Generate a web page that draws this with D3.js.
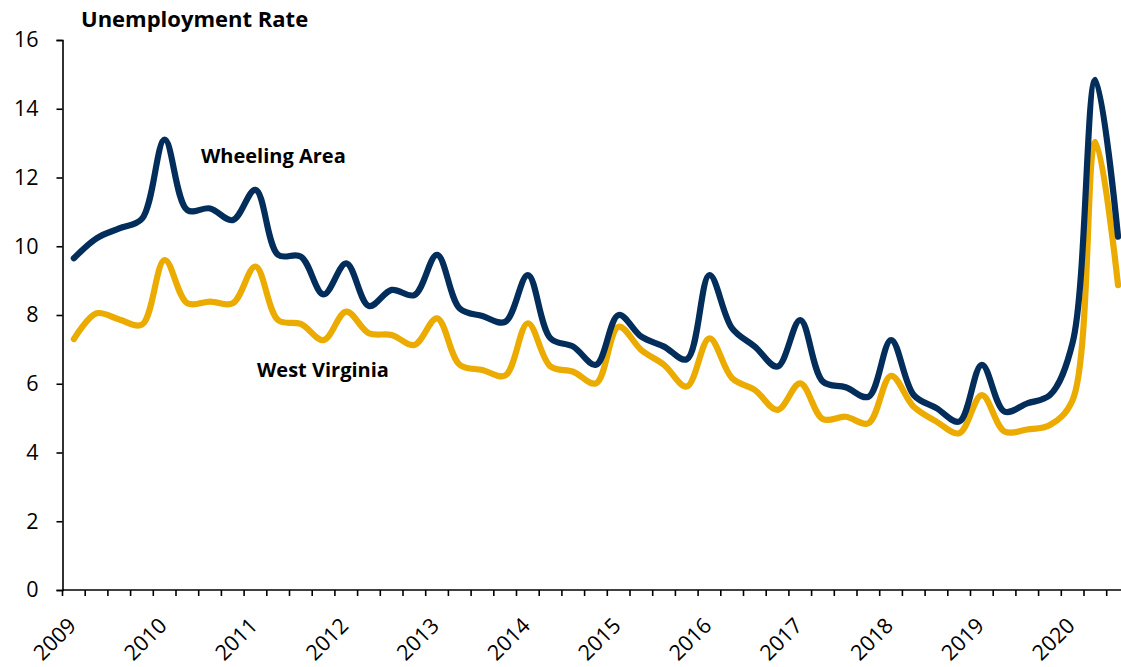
<!DOCTYPE html>
<html>
<head>
<meta charset="utf-8">
<script src="https://cdn.jsdelivr.net/npm/d3@7"></script>
<style>
  html, body { margin: 0; padding: 0; background: #fff; }
  svg { display: block; }
  text { font-family: "Open Sans", Lato, sans-serif; fill: #000; }
</style>
</head>
<body>
<svg id="chart" width="1121" height="667"></svg>
<script>
// Quarterly periods 2009Q1 .. 2020Q3
const years = [2009, 2010, 2011, 2012, 2013, 2014, 2015, 2016, 2017, 2018, 2019, 2020];
const quarters = [];
years.forEach(yr => [1, 2, 3, 4].forEach(q => { if (!(yr === 2020 && q === 4)) quarters.push(yr + "Q" + q); }));

const wheeling = [
  9.65, 10.23, 10.52, 10.8,
  13.1, 11.05, 11.1, 10.76,
  11.64, 9.75, 9.7, 8.6,
  9.5, 8.26, 8.73, 8.58,
  9.75, 8.19, 7.97, 7.8,
  9.16, 7.32, 7.08, 6.55,
  8.0, 7.37, 7.08, 6.71,
  9.16, 7.61, 7.08, 6.5,
  7.85, 6.06, 5.9, 5.62,
  7.27, 5.67, 5.29, 4.9,
  6.55, 5.19, 5.43, 5.67,
  7.2, 14.84, 10.28
];
const westVirginia = [
  7.3, 8.05, 7.87, 7.72,
  9.6, 8.34, 8.39, 8.34,
  9.41, 7.85, 7.74, 7.27,
  8.1, 7.47, 7.42, 7.13,
  7.9, 6.55, 6.4, 6.24,
  7.76, 6.5, 6.35, 6.01,
  7.66, 6.98, 6.55, 5.92,
  7.32, 6.16, 5.82, 5.24,
  6.01, 4.97, 5.04, 4.85,
  6.23, 5.33, 4.9, 4.56,
  5.67, 4.61, 4.67, 4.8,
  5.53, 13.04, 8.87
];
const yTicks = [0, 2, 4, 6, 8, 10, 12, 14, 16];
const title = "Unemployment Rate";
const seriesNames = ["Wheeling Area", "West Virginia"];

const svg = d3.select("#chart");
const mLeft = 62.5, mTop = 40, mBottom = 590;
const bandW = 22.7;

const x = d3.scaleBand().domain(quarters).range([mLeft, mLeft + quarters.length * bandW]).padding(0);
const y = d3.scaleLinear().domain([0, 16]).range([mBottom, mTop]);

// Y axis
const yAxis = d3.axisLeft(y).tickValues(yTicks).tickSize(6).tickPadding(18).tickFormat(d3.format("d"));
const gy = svg.append("g").attr("transform", `translate(${mLeft},0)`).call(yAxis);
gy.select(".domain").attr("stroke", "#000").attr("stroke-width", 1.6);
gy.selectAll(".tick line").attr("stroke", "#000").attr("stroke-width", 1.6);
gy.selectAll(".tick text").style("font-family", "'Open Sans', sans-serif").style("font-size", "21.5px").attr("fill", "#000");

// X axis line
svg.append("line").attr("x1", mLeft).attr("x2", 1121).attr("y1", mBottom).attr("y2", mBottom)
  .attr("stroke", "#000").attr("stroke-width", 1.6);
// X ticks at band boundaries
svg.append("g").selectAll("line").data(quarters).join("line")
  .attr("x1", d => x(d)).attr("x2", d => x(d))
  .attr("y1", mBottom).attr("y2", mBottom + 6)
  .attr("stroke", "#000").attr("stroke-width", 1.6);
// Year labels
svg.append("g").selectAll("text").data(quarters.filter(q => q.endsWith("Q1"))).join("text")
  .attr("transform", d => `translate(${x(d) + x.bandwidth() / 2 + 3.5},${mBottom + 37}) rotate(-45)`)
  .attr("text-anchor", "end")
  .style("font-size", "21.5px")
  .text(d => d.slice(0, 4));

// Lines
const line = d3.line()
  .x((d, i) => x(quarters[i]) + x.bandwidth() / 2)
  .y(d => y(d))
  .curve(d3.curveCatmullRom.alpha(0.5));

svg.append("path").datum(westVirginia).attr("d", line)
  .attr("fill", "none").attr("stroke", "#EBAB00").attr("stroke-width", 6.2)
  .attr("stroke-linecap", "round").attr("stroke-linejoin", "round");
svg.append("path").datum(wheeling).attr("d", line)
  .attr("fill", "none").attr("stroke", "#032D5A").attr("stroke-width", 6.2)
  .attr("stroke-linecap", "round").attr("stroke-linejoin", "round");

// Title and series labels
svg.append("text").attr("x", 81).attr("y", 27).style("font-size", "22px").style("font-weight", "bold").text(title);
svg.append("text").attr("x", 201).attr("y", 163).style("font-size", "20px").style("font-weight", "bold").text(seriesNames[0]);
svg.append("text").attr("x", 257).attr("y", 377).style("font-size", "20px").style("font-weight", "bold").text(seriesNames[1]);
</script>
</body>
</html>
